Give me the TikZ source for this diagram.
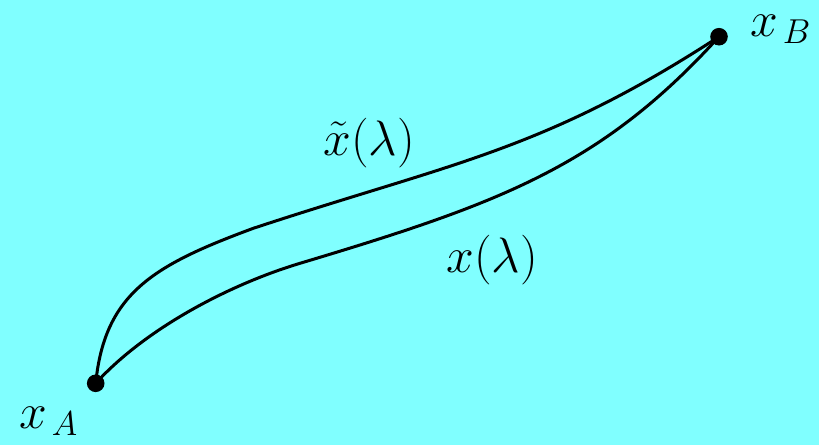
\documentclass[tikz,border=0pt]{standalone}
\usepackage{amsmath}
\definecolor{bg}{RGB}{128,255,255}
\begin{document}
\begin{tikzpicture}[x=0.5pt,y=-0.5pt,
  dot/.style={circle,fill=black,inner sep=0pt,minimum size=8.8pt},
  curve/.style={line width=1.5pt,black},
  lbl/.style={inner sep=0pt,font=\fontsize{23}{28}\selectfont}]
\fill[bg] (0,0) rectangle (819,445);
\useasboundingbox (0,0) rectangle (819,445);
\node[dot] (A) at (95.7,383.3) {};
\node[dot] (B) at (719,36.7) {};
% upper curve: A -> Q -> B
\coordinate (Q) at (253.3,228.3);
\draw[curve] (A.center) .. controls (104.7,293.3) and (153.3,265.3) .. (Q)
  .. controls (453.3,162.3) and (543,151.1) .. (B.center);
% lower curve: A -> P -> B
\coordinate (P) at (300,263.3);
\draw[curve] (A.center) .. controls (145.7,328.3) and (230,284.3) .. (P)
  .. controls (500,203.3) and (601,166.5) .. (B.center);
\node[lbl,anchor=base] (xt) at (369,155) {$\tilde{x}(\lambda)$};
\node[lbl,anchor=base] (xl) at (492,272) {$x(\lambda)$};
\node[lbl,anchor=base west] (xA) at (19,428) {$x_{\mkern2.5mu A}$};
\node[lbl,anchor=base west] (xB) at (750,36) {$x_{\mkern2.5mu B}$};
\end{tikzpicture}
\end{document}
